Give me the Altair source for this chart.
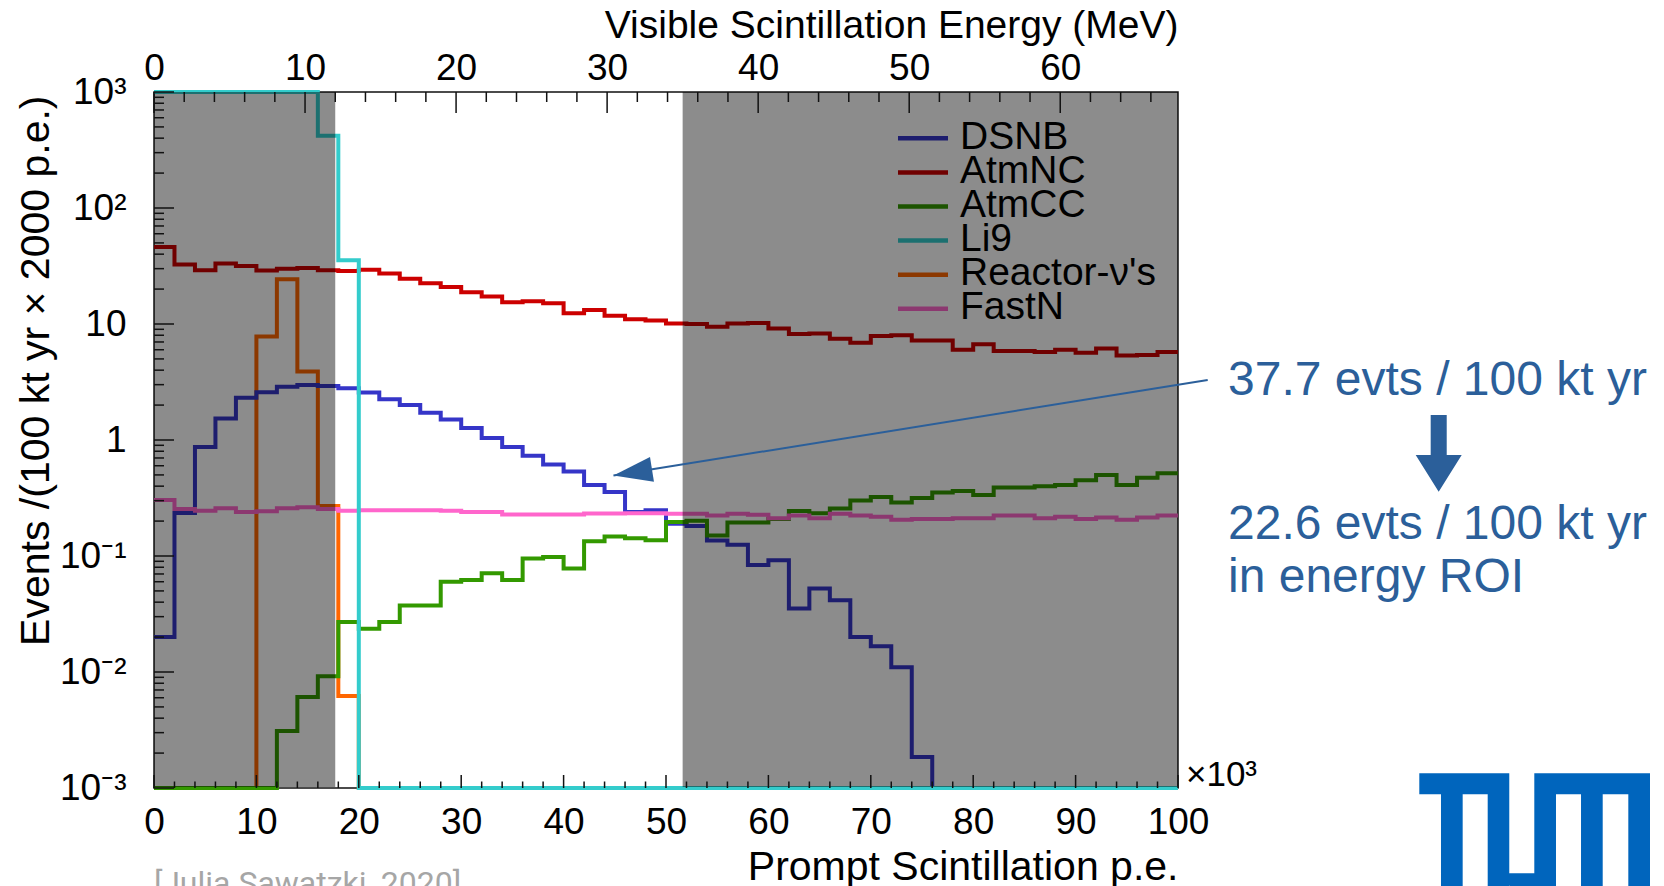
import altair as alt
import pandas as pd

# ---------------- data ----------------
SERIES = ["DSNB", "AtmNC", "AtmCC", "Li9", "Reactor-ν's", "FastN"]

# histogram bin edges in units of 10^3 p.e. (50 bins of 2k p.e.)
BIN_EDGES = list(range(0, 101, 2))

DSNB = [0.020, 0.235, 0.87, 1.53, 2.31, 2.58, 2.88, 2.98, 2.92, 2.80,
        2.57, 2.25, 2.0, 1.72, 1.5, 1.27, 1.04, 0.87, 0.73, 0.615,
        0.535, 0.41, 0.356, 0.239, 0.248, 0.19, 0.181, 0.136, 0.125, 0.0838,
        0.0917, 0.0353, 0.0524, 0.0415, 0.020, 0.0167, 0.0110, 0.00185, 0, 0,
        0, 0, 0, 0, 0, 0, 0, 0, 0, 0]
ATMNC = [46, 32.6, 29.1, 33.2, 31.6, 28.9, 30, 30.4, 29, 28.7,
         29.3, 27.2, 24.6, 22.5, 20.8, 18.8, 17.3, 15.4, 15.7, 15.1,
         12.4, 13.2, 11.8, 11.0, 10.7, 10.1, 10.0, 9.45, 10.1, 10.2,
         9.15, 8.2, 8.3, 7.45, 6.9, 7.9, 8.0, 7.2, 7.2, 6.0,
         6.7, 5.85, 5.85, 5.75, 6.0, 5.65, 6.15, 5.35, 5.4, 5.75]
ATMCC = [0, 0, 0, 0, 0, 0, 0.0031, 0.0061, 0.0092, 0.027,
         0.0236, 0.027, 0.0374, 0.0374, 0.060, 0.062, 0.071, 0.062, 0.095, 0.098,
         0.078, 0.134, 0.147, 0.142, 0.137, 0.196, 0.201, 0.150, 0.194, 0.194,
         0.208, 0.244, 0.234, 0.257, 0.301, 0.323, 0.289, 0.317, 0.352, 0.364,
         0.335, 0.390, 0.390, 0.399, 0.410, 0.450, 0.499, 0.410, 0.472, 0.517]
# first 8 bins are off the top of the frame (drawn at 10^3)
LI9 = [1000, 1000, 1000, 1000, 1000, 1000, 1000, 1000, 420, 35.5,
       0, 0, 0, 0, 0, 0, 0, 0, 0, 0,
       0, 0, 0, 0, 0, 0, 0, 0, 0, 0,
       0, 0, 0, 0, 0, 0, 0, 0, 0, 0,
       0, 0, 0, 0, 0, 0, 0, 0, 0, 0]
REACTOR = [0, 0, 0, 0, 0, 7.8, 24.3, 3.9, 0.27, 0.0062,
           0, 0, 0, 0, 0, 0, 0, 0, 0, 0,
           0, 0, 0, 0, 0, 0, 0, 0, 0, 0,
           0, 0, 0, 0, 0, 0, 0, 0, 0, 0,
           0, 0, 0, 0, 0, 0, 0, 0, 0, 0]
FASTN = [0.304, 0.254, 0.246, 0.258, 0.240, 0.243, 0.258, 0.263, 0.254, 0.246,
         0.248, 0.248, 0.248, 0.248, 0.246, 0.239, 0.239, 0.228, 0.228, 0.228,
         0.228, 0.232, 0.232, 0.234, 0.234, 0.231, 0.231, 0.223, 0.231, 0.227,
         0.212, 0.223, 0.212, 0.231, 0.223, 0.218, 0.205, 0.208, 0.208, 0.212,
         0.212, 0.223, 0.223, 0.212, 0.218, 0.208, 0.215, 0.205, 0.215, 0.223]

VALUES = {"DSNB": DSNB, "AtmNC": ATMNC, "AtmCC": ATMCC, "Li9": LI9,
          "Reactor-ν's": REACTOR, "FastN": FASTN}
DRAW_ORDER = ["Reactor-ν's", "DSNB", "AtmNC", "AtmCC", "FastN", "Li9"]

PE_PER_MEV = 1.475          # 10^3 p.e. per MeV (top axis conversion)
ROI_MEV = [12, 35]          # un-shaded energy window

BOTTOM_MAJOR = list(range(0, 101, 10))
BOTTOM_MINOR = [v for v in range(2, 100, 2) if v % 10]
TOP_MEV_MAJOR = list(range(0, 61, 10))
TOP_MEV_MINOR = [v for v in range(2, 68, 2) if v % 10]
LEFT_MAJOR = [1e-3, 1e-2, 1e-1, 1, 10, 100, 1000]
LEFT_MINOR = [m * 10.0 ** e for e in range(-3, 3) for m in range(2, 10)]
LEFT_LABELS = ["10⁻³", "10⁻²", "10⁻¹", "1", "10", "10²", "10³"]

ARROW = pd.DataFrame({"x0": [102.9], "y0": [3.29], "x1": [44.87], "y1": [0.494]})
TXT_TOTAL = "37.7 evts / 100 kt yr"
TXT_ROI_1 = "22.6 evts / 100 kt yr"
TXT_ROI_2 = "in energy ROI"
TXT_CITE = "[Julia Sawatzki, 2020]"

# ---------------- styles ----------------
W, H = 1024, 696
TOP = 92
LEFT = 154
FONT = "Liberation Sans"
TICK = "#111111"
ANN = "#2b5f9a"
TUM = "#0065bd"
SHADE_OPACITY = 0.45
LINE_COLORS = {"DSNB": "#3535c8", "AtmNC": "#cc0000", "AtmCC": "#339900",
               "Li9": "#33cccc", "Reactor-ν's": "#ff6600", "FastN": "#ff66cc"}
# legend rows: pixel position of first row and row pitch
LEG_Y0, LEG_STEP = 46.3, 34.1
LEG_SYM_X0, LEG_SYM_X1, LEG_TXT_X = 744, 794, 806


def darken(hexcol, f=1 - SHADE_OPACITY):
    r, g, b = (int(hexcol[i:i + 2], 16) for i in (1, 3, 5))
    return "#%02x%02x%02x" % (round(r * f), round(g * f), round(b * f))


LEGEND_COLORS = [darken(LINE_COLORS[s]) for s in SERIES]

rows = []
for name in SERIES:
    vals = VALUES[name]
    for i, v in enumerate(vals):
        rows.append({"series": name, "x": BIN_EDGES[i], "v": v})
    rows.append({"series": name, "x": BIN_EDGES[-1], "v": vals[-1]})
hist = pd.DataFrame(rows)

xs = alt.Scale(domain=[0, 100], nice=False, zero=False)
ys = alt.Scale(type="log", domain=[1e-3, 1e3], nice=False)

layers = []
for name in DRAW_ORDER:
    layers.append(
        alt.Chart(hist)
        .transform_filter(alt.FieldEqualPredicate(field="series", equal=name))
        .transform_calculate(vc="min(max(datum.v, 0.001), 1000)")
        .mark_line(interpolate="step-after", color=LINE_COLORS[name],
                   strokeWidth=4, clip=False)
        .encode(x=alt.X("x:Q", scale=xs, axis=None),
                y=alt.Y("vc:Q", scale=ys, axis=None))
    )

shade_df = pd.DataFrame({"x0": [0, ROI_MEV[1] * PE_PER_MEV],
                         "x1": [ROI_MEV[0] * PE_PER_MEV, 100]})
layers.append(
    alt.Chart(shade_df).mark_rect(color="black", opacity=SHADE_OPACITY)
    .encode(x=alt.X("x0:Q", scale=xs, axis=None), x2="x1:Q",
            y=alt.value(0), y2=alt.value(H - 1))
)

# ---- axes (labels) + inward ticks ----
bottom_axis = alt.Axis(
    orient="bottom", values=BOTTOM_MAJOR, format="d", domain=False, ticks=False,
    tickSize=0, grid=False, labelFontSize=37, labelPadding=16, labelColor="black",
    labelFont=FONT, labelFlush=False, labelOverlap=False,
    title="Prompt Scintillation p.e.", titleFont=FONT, titleFontSize=41,
    titleFontWeight="normal", titleColor="black", titleX=W, titleY=91,
    titleAlign="right", titleBaseline="alphabetic")
layers.append(
    alt.Chart(pd.DataFrame({"x": BOTTOM_MAJOR})).mark_rule(color=TICK, strokeWidth=1.5)
    .encode(x=alt.X("x:Q", scale=xs, axis=bottom_axis),
            y=alt.value(H), y2=alt.value(H - 13))
)
layers.append(
    alt.Chart(pd.DataFrame({"x": BOTTOM_MINOR})).mark_rule(color=TICK, strokeWidth=1.5)
    .encode(x=alt.X("x:Q", scale=xs, axis=None),
            y=alt.value(H), y2=alt.value(H - 6.5))
)

top_axis = alt.Axis(
    orient="top", values=[m * PE_PER_MEV for m in TOP_MEV_MAJOR],
    labelExpr=f"format(datum.value / {PE_PER_MEV}, '.0f')", domain=False,
    ticks=False, tickSize=0, grid=False, labelFontSize=37, labelPadding=5,
    labelColor="black", labelFont=FONT, labelFlush=False, labelOverlap=False,
    title="Visible Scintillation Energy (MeV)", titleFont=FONT, titleFontSize=39,
    titleFontWeight="normal", titleColor="black", titleX=W, titleY=-55,
    titleAlign="right", titleBaseline="alphabetic")
layers.append(
    alt.Chart(pd.DataFrame({"mev": TOP_MEV_MAJOR}))
    .transform_calculate(x=f"datum.mev * {PE_PER_MEV}")
    .mark_rule(color=TICK, strokeWidth=1.5)
    .encode(x=alt.X("x:Q", scale=xs, axis=top_axis),
            y=alt.value(0), y2=alt.value(21))
)
layers.append(
    alt.Chart(pd.DataFrame({"mev": TOP_MEV_MINOR}))
    .transform_calculate(x=f"datum.mev * {PE_PER_MEV}")
    .mark_rule(color=TICK, strokeWidth=1.5)
    .encode(x=alt.X("x:Q", scale=xs, axis=None),
            y=alt.value(0), y2=alt.value(10))
)

label_js = "[" + ",".join("'" + s + "'" for s in LEFT_LABELS) + "]"
left_axis = alt.Axis(
    values=LEFT_MAJOR, labelExpr=f"{label_js}[round(log(datum.value)/LN10) + 3]",
    domain=False, ticks=False, tickSize=0, grid=False, labelFontSize=37,
    labelPadding=28, labelColor="black", labelFont=FONT, labelFlush=False,
    labelOverlap=False,
    title="Events /(100 kt yr × 2000 p.e.)", titleFont=FONT, titleFontSize=41,
    titleFontWeight="normal", titleColor="black", titleAngle=270,
    titleX=-106, titleY=3, titleAlign="right", titleBaseline="alphabetic")
layers.append(
    alt.Chart(pd.DataFrame({"y": LEFT_MAJOR})).mark_rule(color=TICK, strokeWidth=1.5)
    .encode(y=alt.Y("y:Q", scale=ys, axis=left_axis),
            x=alt.value(0), x2=alt.value(20))
)
layers.append(
    alt.Chart(pd.DataFrame({"y": LEFT_MINOR})).mark_rule(color=TICK, strokeWidth=1.5)
    .encode(y=alt.Y("y:Q", scale=ys, axis=None),
            x=alt.value(0), x2=alt.value(10))
)

# ---- legend drawn inside the frame (colours as seen under the shading) ----
leg_df = pd.DataFrame({"series": SERIES, "row": list(range(len(SERIES)))})
leg_y = alt.Y("row:Q", axis=None,
              scale=alt.Scale(domain=[0, 1], range=[LEG_Y0, LEG_Y0 + LEG_STEP]))
layers.append(
    alt.Chart(leg_df).mark_rule(strokeWidth=4.5)
    .encode(x=alt.value(LEG_SYM_X0), x2=alt.value(LEG_SYM_X1), y=leg_y,
            color=alt.Color("series:N", legend=None,
                            scale=alt.Scale(domain=SERIES, range=LEGEND_COLORS)))
)
layers.append(
    alt.Chart(leg_df).mark_text(align="left", baseline="alphabetic", dy=10.5,
                                fontSize=39, font=FONT, color="black")
    .encode(x=alt.value(LEG_TXT_X), y=leg_y, text="series:N")
)

# ---- annotation arrow pointing at the DSNB spectrum ----
layers.append(
    alt.Chart(ARROW).mark_rule(color=ANN, strokeWidth=2, clip=False)
    .encode(x=alt.X("x0:Q", scale=xs, axis=None), x2="x1:Q",
            y=alt.Y("y0:Q", scale=ys, axis=None), y2="y1:Q")
)
layers.append(
    alt.Chart(ARROW).mark_point(shape="M0,0L2,-0.64L2,0.64Z", size=1521,
                                filled=True, color=ANN, opacity=1,
                                strokeWidth=0, angle=350.9)
    .encode(x=alt.X("x1:Q", scale=xs, axis=None),
            y=alt.Y("y1:Q", scale=ys, axis=None))
)


def text_layer(txt, x, y, size, color, font=FONT):
    return (alt.Chart(pd.DataFrame({"t": [txt]}))
            .mark_text(align="left", baseline="alphabetic", fontSize=size,
                       color=color, font=font)
            .encode(text="t:N", x=alt.value(x), y=alt.value(y)))


layers.append(text_layer(TXT_TOTAL, 1074, 303, 48, ANN))
layers.append(text_layer(TXT_ROI_1, 1074, 447, 48, ANN))
layers.append(text_layer(TXT_ROI_2, 1074, 500, 48, ANN))
layers.append(text_layer("×10³", 1032, 694, 35, "black"))
layers.append(text_layer(TXT_CITE, 0, 802, 32, "#a6a6a6", font="Roboto"))

# block arrow (down)
DOWN_ARROW = ("M-0.209,-1L0.209,-1L0.209,0.043L0.6,0.043L0,1L-0.6,0.043"
              "L-0.209,0.043Z")
layers.append(
    alt.Chart(pd.DataFrame({"k": [0]}))
    .mark_point(shape=DOWN_ARROW, size=5883, filled=True, color=ANN,
                opacity=1, strokeWidth=0)
    .encode(x=alt.value(1284.7), y=alt.value(361.35))
)

# TUM logo
TUM_PATH = ("M-1,-0.4885L-0.22,-0.4885L-0.22,-0.3065L-1,-0.3065Z"
            "M-0.812,-0.3065L-0.624,-0.3065L-0.624,0.4885L-0.812,0.4885Z"
            "M-0.407,-0.4885L-0.22,-0.4885L-0.22,0.4885L-0.407,0.4885Z"
            "M-0.22,0.378L-0.003,0.378L-0.003,0.4885L-0.22,0.4885Z"
            "M-0.003,-0.4885L1,-0.4885L1,-0.3065L-0.003,-0.3065Z"
            "M-0.003,-0.3065L0.185,-0.3065L0.185,0.4885L-0.003,0.4885Z"
            "M0.402,-0.3065L0.59,-0.3065L0.59,0.4885L0.402,0.4885Z"
            "M0.812,-0.3065L1,-0.3065L1,0.4885L0.812,0.4885Z")
layers.append(
    alt.Chart(pd.DataFrame({"k": [0]}))
    .mark_point(shape=TUM_PATH, size=230.7 ** 2, filled=True, color=TUM,
                opacity=1, strokeWidth=0)
    .encode(x=alt.value(1380.65), y=alt.value(737.65))
)

chart = (
    alt.layer(*layers)
    .resolve_scale(y="independent")
    .resolve_axis(x="independent", y="independent")
    .properties(width=W, height=H,
                autosize=alt.AutoSizeParams(type="none"),
                padding={"left": LEFT, "top": TOP, "right": 1664 - LEFT - W,
                         "bottom": 886 - TOP - H})
    .configure(font=FONT, background="white")
    .configure_view(stroke="#111111", strokeWidth=1.5)
)

chart.save("out.html", embed_options={"renderer": "svg", "actions": False})
